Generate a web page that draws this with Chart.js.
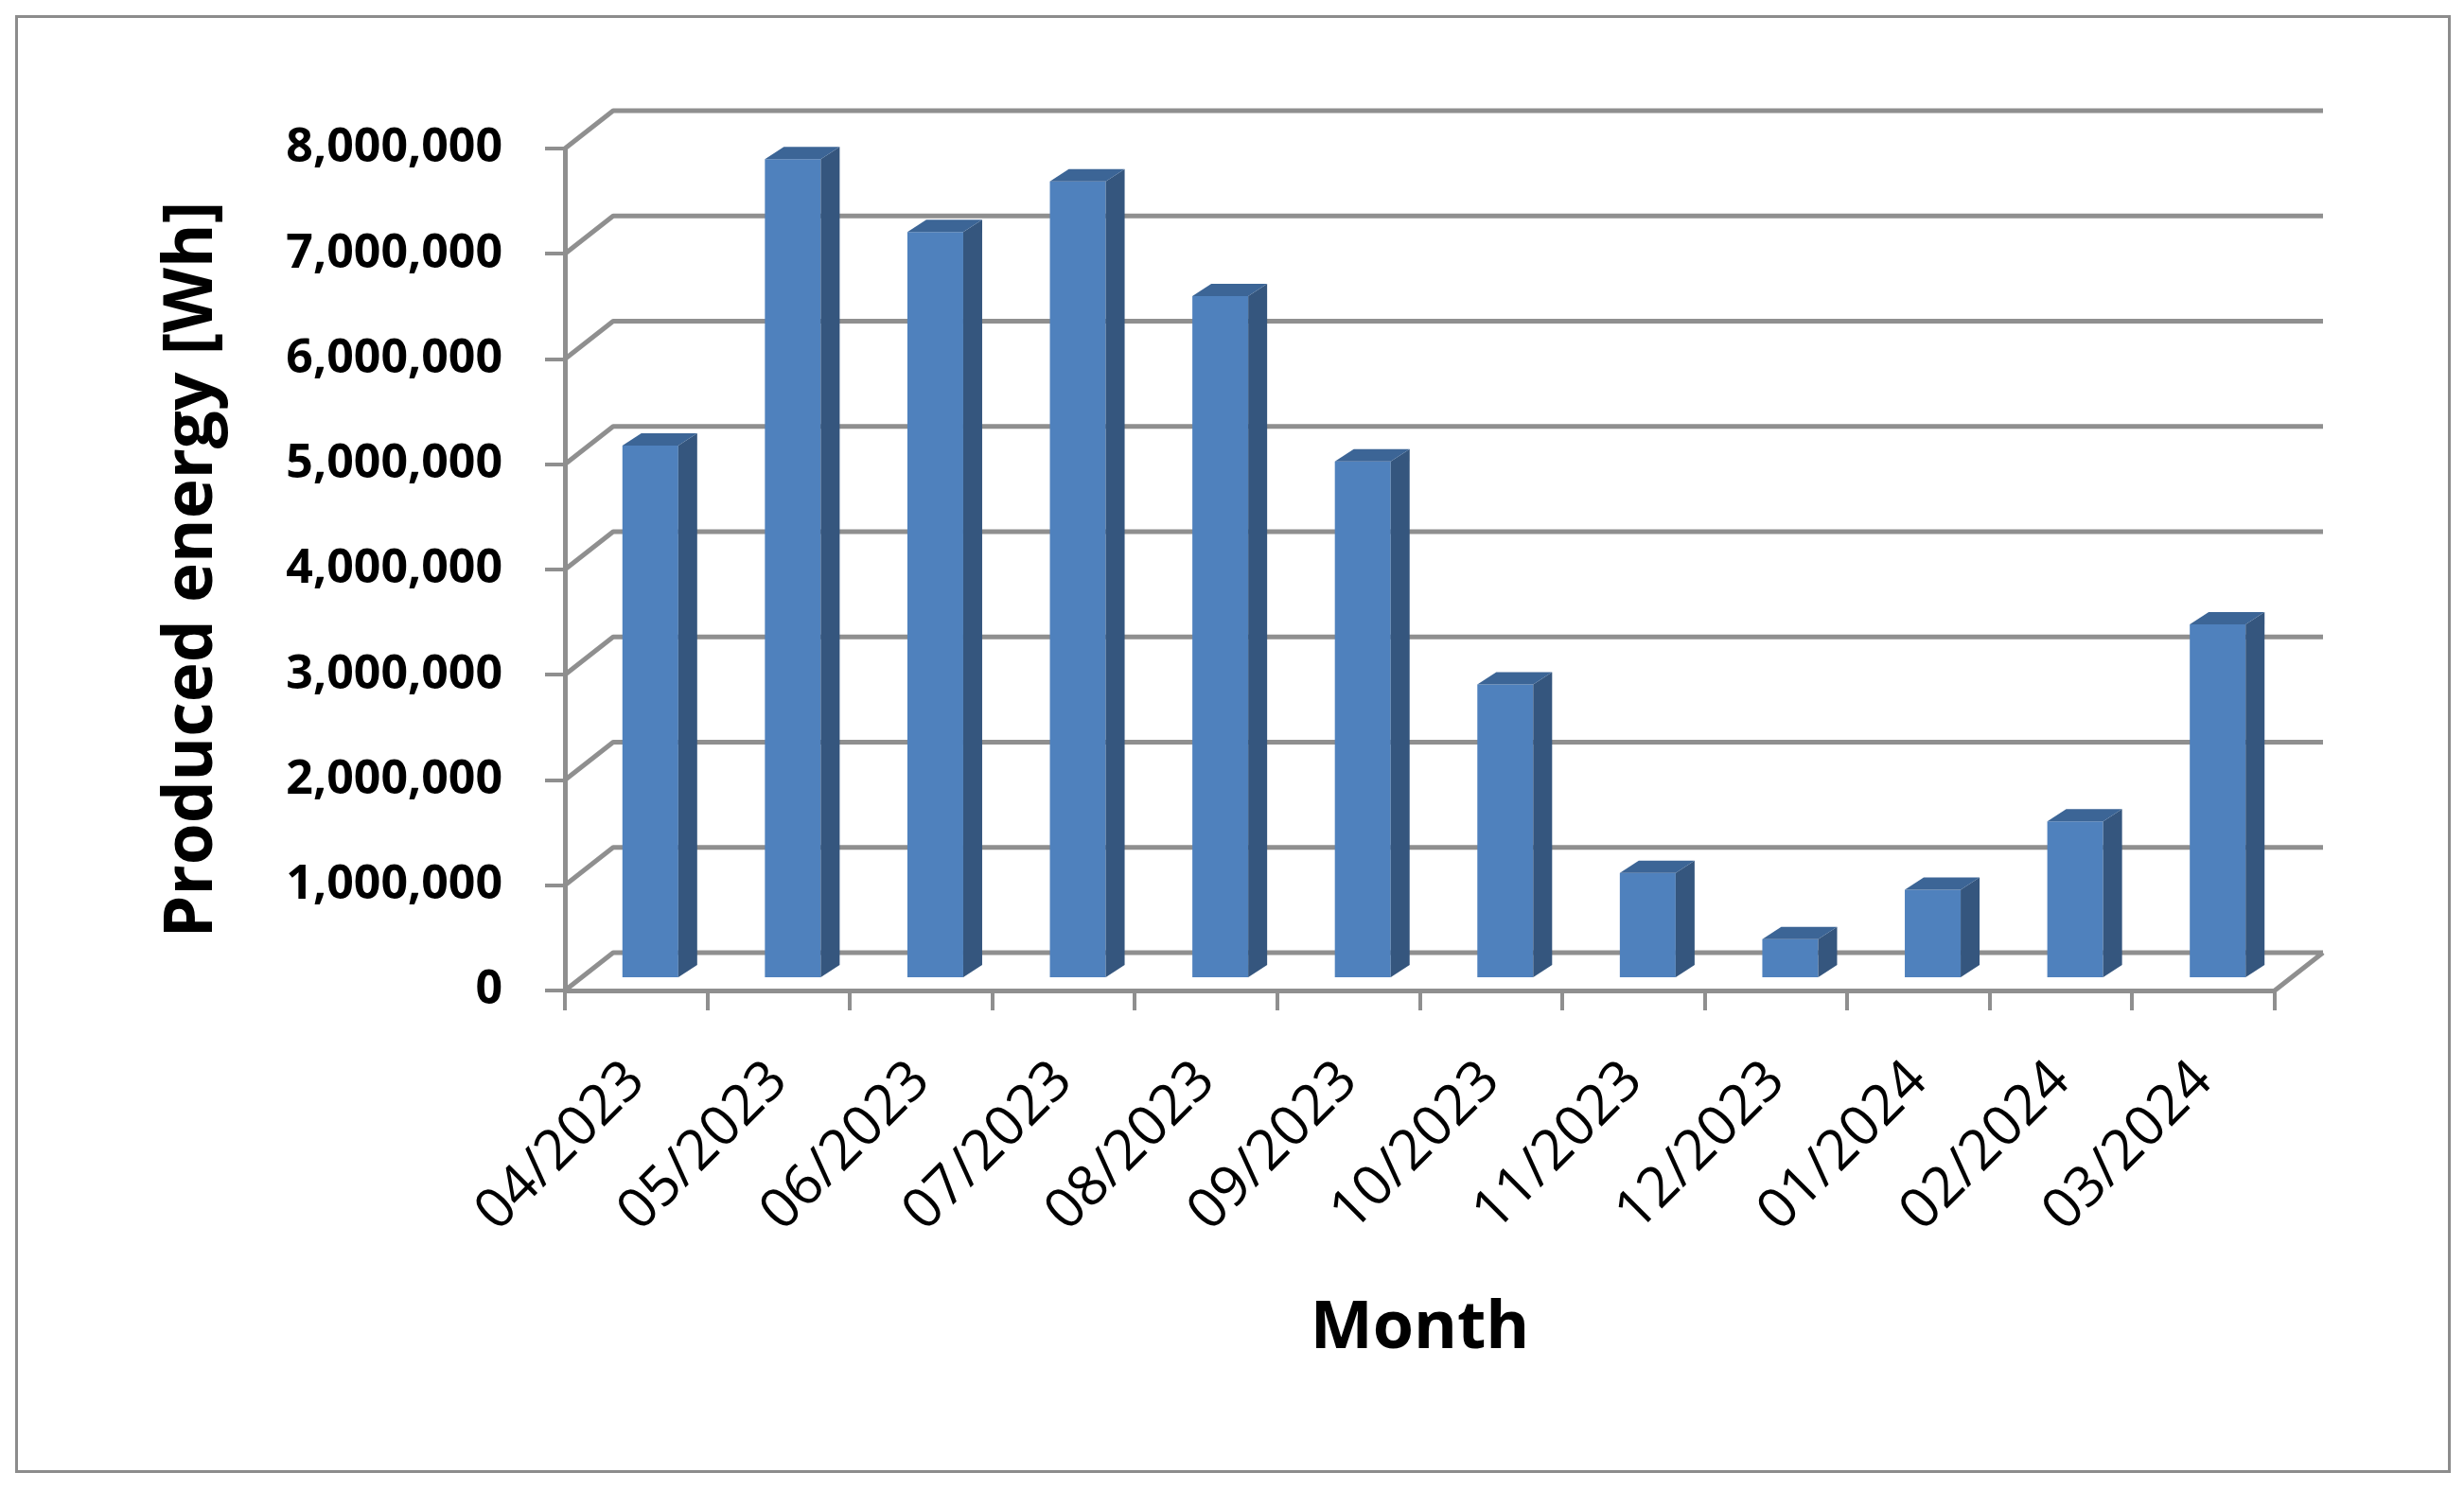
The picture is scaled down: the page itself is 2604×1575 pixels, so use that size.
<!DOCTYPE html>
<html>
<head>
<meta charset="utf-8">
<title>Produced energy per month</title>
<script src="https://cdn.jsdelivr.net/npm/chart.js@4.4.1/dist/chart.umd.min.js"></script>
<style>
  html, body { margin: 0; padding: 0; background: #fff; }
  #wrap { width: 2604px; height: 1575px; }
</style>
</head>
<body>
<div id="wrap"><canvas id="energy-chart" width="2604" height="1575"></canvas></div>
<script>
var months = [
  "04/2023", "05/2023", "06/2023", "07/2023", "08/2023", "09/2023",
  "10/2023", "11/2023", "12/2023", "01/2024", "02/2024", "03/2024"
];
var energyWh = [
  5070000, 7790000, 7100000, 7580000, 6490000, 4920000,
  2800000, 1010000, 380000, 850000, 1500000, 3370000
];
var yTicks = [0, 1000000, 2000000, 3000000, 4000000, 5000000, 6000000, 7000000, 8000000];
var yTitle = "Produced energy [Wh]";
var xTitle = "Month";

(function () {
  "use strict";

  var FONT = "'Open Sans', 'Noto Sans', sans-serif";
  var GRID = "#8f8f8f";
  var FRONT = "#4f81bd";
  var SIDE = "#35567e";
  var TOP = "#3c6596";

  // oblique offsets for the fake 3d look
  var WALL = { dx: 51, dy: -40 };
  var BAR_SHIFT = { dx: 15, dy: -12 };
  var BAR_DEPTH = { dx: 20, dy: -13 };

  var depthPlugin = {
    id: "depth",
    beforeDraw: function (chart) {
      var ctx = chart.ctx;
      ctx.save();
      ctx.fillStyle = "#fff";
      ctx.fillRect(0, 0, chart.width, chart.height);
      ctx.strokeStyle = "#8c8c8c";
      ctx.lineWidth = 3;
      ctx.strokeRect(17.5, 17.5, 2571, 1538);
      ctx.restore();
    },
    beforeDatasetsDraw: function (chart) {
      var ctx = chart.ctx;
      var a = chart.chartArea;
      var ys = chart.scales.y;
      ctx.save();
      ctx.strokeStyle = GRID;
      ctx.lineWidth = 5;
      ctx.lineJoin = "round";
      ctx.beginPath();
      ys.ticks.forEach(function (t) {
        var py = ys.getPixelForValue(t.value);
        ctx.moveTo(a.left, py);
        ctx.lineTo(a.left + WALL.dx, py + WALL.dy);
        ctx.lineTo(a.right + WALL.dx, py + WALL.dy);
      });
      ctx.moveTo(a.right, a.bottom);
      ctx.lineTo(a.right + WALL.dx, a.bottom + WALL.dy);
      ctx.stroke();
      ctx.restore();

      // bars sit a bit behind the front plane
      ctx.save();
      ctx.translate(BAR_SHIFT.dx, BAR_SHIFT.dy);
    },
    afterDatasetsDraw: function (chart) {
      var ctx = chart.ctx;
      chart.getDatasetMeta(0).data.forEach(function (bar) {
        var p = bar.getProps(["x", "y", "base", "width"], true);
        var l = p.x - p.width / 2;
        var r = p.x + p.width / 2;

        ctx.fillStyle = SIDE;
        ctx.beginPath();
        ctx.moveTo(r, p.y);
        ctx.lineTo(r + BAR_DEPTH.dx, p.y + BAR_DEPTH.dy);
        ctx.lineTo(r + BAR_DEPTH.dx, p.base + BAR_DEPTH.dy);
        ctx.lineTo(r, p.base);
        ctx.closePath();
        ctx.fill();

        ctx.fillStyle = TOP;
        ctx.beginPath();
        ctx.moveTo(l, p.y);
        ctx.lineTo(l + BAR_DEPTH.dx, p.y + BAR_DEPTH.dy);
        ctx.lineTo(r + BAR_DEPTH.dx, p.y + BAR_DEPTH.dy);
        ctx.lineTo(r, p.y);
        ctx.closePath();
        ctx.fill();
      });
      ctx.restore();
    }
  };

  new Chart(document.getElementById("energy-chart"), {
    type: "bar",
    data: {
      labels: months,
      datasets: [
        {
          data: energyWh,
          backgroundColor: FRONT,
          borderWidth: 0,
          categoryPercentage: 1,
          barPercentage: 0.392,
          clip: false
        }
      ]
    },
    options: {
      responsive: false,
      animation: false,
      devicePixelRatio: 1,
      layout: { padding: { left: 20, right: 200, top: 157, bottom: 20 } },
      plugins: { legend: { display: false }, tooltip: { enabled: false } },
      scales: {
        x: {
          grid: { drawOnChartArea: false, tickLength: 21, color: GRID, lineWidth: 4 },
          border: { color: GRID, width: 5 },
          ticks: {
            color: "#000",
            font: { family: FONT, size: 59 },
            minRotation: 45,
            maxRotation: 45,
            autoSkip: false,
            padding: 40
          },
          title: {
            display: true,
            text: xTitle,
            color: "#000",
            font: { family: FONT, size: 70, weight: "bold" },
            padding: { top: 0, bottom: 108 }
          },
          afterFit: function (s) {
            s.height = 1575 - 20 - 1047;
          }
        },
        y: {
          min: 0,
          max: 8000000,
          afterBuildTicks: function (s) {
            s.ticks = yTicks.map(function (v) {
              return { value: v };
            });
          },
          grid: { drawOnChartArea: false, tickLength: 21, color: GRID, lineWidth: 4 },
          border: { color: GRID, width: 5 },
          ticks: {
            color: "#000",
            font: { family: FONT, size: 50, weight: "bold" },
            padding: 45,
            callback: function (v) {
              return Number(v).toLocaleString("en-US");
            }
          },
          title: {
            display: true,
            text: yTitle,
            color: "#000",
            font: { family: FONT, size: 71, weight: "bold" },
            padding: { top: 141, bottom: 0 }
          },
          afterFit: function (s) {
            s.width = 597 - 20;
          }
        }
      }
    },
    plugins: [depthPlugin]
  });
})();
</script>
</body>
</html>
